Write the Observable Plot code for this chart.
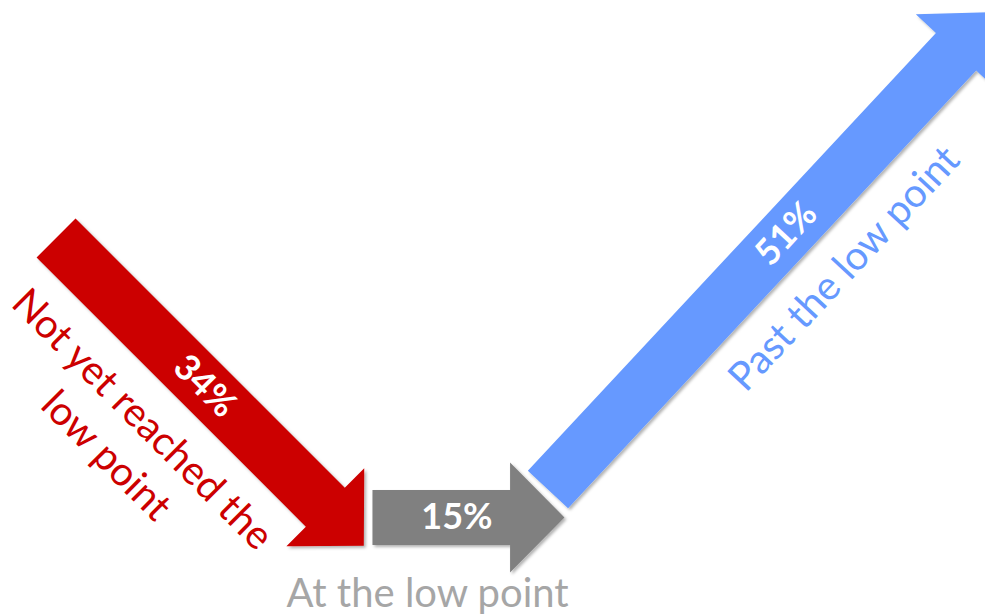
<!DOCTYPE html>
<html>
<head>
<meta charset="utf-8">
<script src="https://cdn.jsdelivr.net/npm/d3@7"></script>
<script src="https://cdn.jsdelivr.net/npm/@observablehq/plot@0.6"></script>
<style>
  html, body { margin: 0; padding: 0; background: #ffffff; }
  #chart svg { display: block; }
</style>
</head>
<body>
<div id="chart"></div>
<script>
// ---- data ----
const categories = ["Not yet reached the low point", "At the low point", "Past the low point"];
const categoryLines = [["Not yet reached the", "low point"], ["At the low point"], ["Past the low point"]];
const values = [34, 15, 51];            // percent
const arrowColors = ["#CC0000", "#808080", "#6699FF"];
const labelColors = ["#CC0000", "#A6A6A6", "#6699FF"];

// ---- layout (units = percentage points; arrow length = value) ----
const W = 985, H = 614;
const pxPerPoint = 12.8;
const arrowStarts = [[4.34, 18.55], [29.06, 40.39], [42.77, 38.20]];
const arrowAngles = [45, 0, -47];       // screen degrees, clockwise
const shaftHalf = 2.15, headHalf = 4.3, headLen = 4.25;
const valueAlong = [16.4, 6.6, 27.3];
const catAlong = [14.8, 4.3, 28.4];
const catPerp = [7.0, 5.74, 4.9];

function frame(i) {
  const a = arrowAngles[i] * Math.PI / 180;
  return {u: [Math.cos(a), Math.sin(a)], n: [-Math.sin(a), Math.cos(a)], s: arrowStarts[i]};
}
function at(i, along, perp) {
  const {u, n, s} = frame(i);
  return [s[0] + u[0] * along + n[0] * perp, s[1] + u[1] * along + n[1] * perp];
}

const polys = [];
values.forEach((v, i) => {
  const L = v, B = L - headLen;
  const pts = [
    at(i, 0, -shaftHalf), at(i, B, -shaftHalf), at(i, B, -headHalf), at(i, L, 0),
    at(i, B, headHalf), at(i, B, shaftHalf), at(i, 0, shaftHalf)
  ];
  pts.forEach(p => polys.push({id: categories[i], x: p[0], y: p[1], color: arrowColors[i]}));
});

const valueLabels = values.map((v, i) => {
  const p = at(i, valueAlong[i], 0);
  return {x: p[0], y: p[1], text: v + "%", rotate: arrowAngles[i]};
});
const catLabels = categories.map((c, i) => {
  const p = at(i, catAlong[i], catPerp[i]);
  return {x: p[0], y: p[1], text: categoryLines[i].join("\n"), rotate: arrowAngles[i], color: labelColors[i]};
});

const font = "Lato, 'Open Sans', sans-serif";
const marks = [];
categories.forEach((c, i) => {
  marks.push(Plot.line(polys.filter(d => d.id === c), {
    x: "x", y: "y", fill: arrowColors[i], stroke: "none", curve: "linear-closed"
  }));
});
marks.push(Plot.text(valueLabels, {
  x: "x", y: "y", text: "text", rotate: (d) => d.rotate, fill: "white",
  fontSize: 36, fontWeight: "bold", fontFamily: font, textAnchor: "middle", lineAnchor: "middle"
}));
catLabels.forEach(d => {
  marks.push(Plot.text([d], {
    x: "x", y: "y", text: "text", rotate: d.rotate, fill: d.color,
    fontSize: 40, fontFamily: font, textAnchor: "middle", lineAnchor: "middle", lineHeight: 1.28
  }));
});

const chart = Plot.plot({
  width: W, height: H,
  margin: 0,
  style: {background: "white", overflow: "hidden"},
  x: {domain: [0, W / pxPerPoint], range: [0, W], axis: null},
  y: {domain: [0, H / pxPerPoint], range: [0, H], axis: null},
  marks
});

// subtle drop shadow on the arrows
const ns = "http://www.w3.org/2000/svg";
const defs = document.createElementNS(ns, "defs");
const filt = document.createElementNS(ns, "filter");
filt.setAttribute("id", "arrowShadow");
filt.setAttribute("x", "-10%"); filt.setAttribute("y", "-10%");
filt.setAttribute("width", "120%"); filt.setAttribute("height", "120%");
const ds = document.createElementNS(ns, "feDropShadow");
ds.setAttribute("dx", "2"); ds.setAttribute("dy", "2");
ds.setAttribute("stdDeviation", "1.5");
ds.setAttribute("flood-color", "#000"); ds.setAttribute("flood-opacity", "0.3");
filt.appendChild(ds); defs.appendChild(filt);
chart.insertBefore(defs, chart.firstChild);
chart.querySelectorAll('g[aria-label="line"]').forEach(g => g.setAttribute("filter", "url(#arrowShadow)"));

document.getElementById("chart").appendChild(chart);
</script>
</body>
</html>
